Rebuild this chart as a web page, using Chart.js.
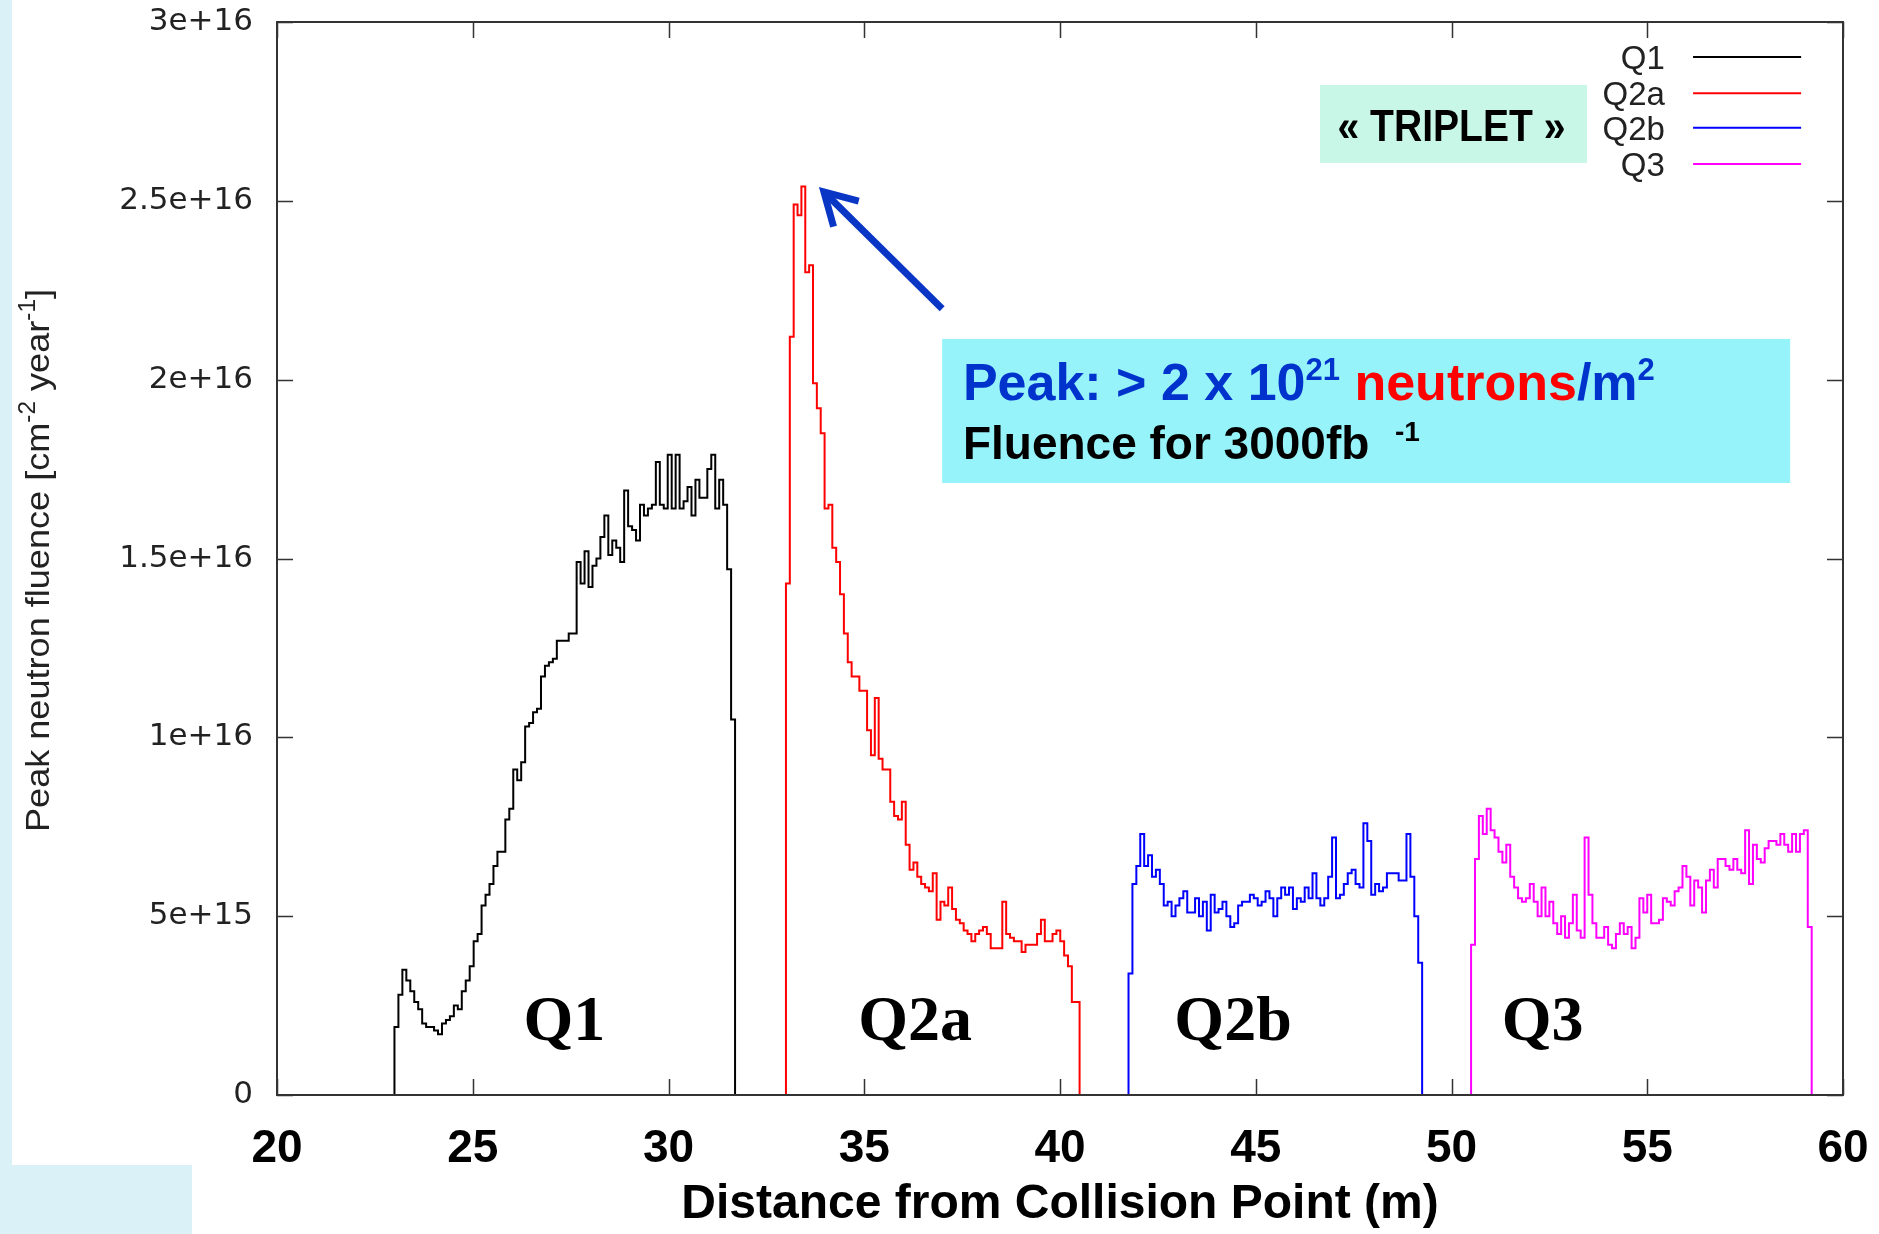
<!DOCTYPE html>
<html>
<head>
<meta charset="utf-8">
<title>Peak neutron fluence - triplet</title>
<script src="https://cdn.jsdelivr.net/npm/chart.js@4.4.1/dist/chart.umd.min.js"></script>
<style>
  html, body { margin: 0; padding: 0; background: #ffffff; }
  #page { position: relative; width: 1879px; height: 1234px; overflow: hidden; background: #ffffff; }
  .band { position: absolute; background: #daf2f7; }
  #chart { position: absolute; left: 0; top: 0; }
</style>
</head>
<body>
<div id="page">
  <div class="band" style="left:0;top:0;width:12px;height:1165px"></div>
  <div class="band" style="left:0;top:1165px;width:192px;height:69px"></div>
  <canvas id="chart" width="1879" height="1234"></canvas>
</div>
<script>
// distance from collision point (m) covered by each magnet histogram: [start, end]
const q1Range = [23.0, 31.7];
const q2aRange = [33.0, 40.5];
const q2bRange = [41.75, 49.25];
const q3Range = [50.5, 59.2];

// peak neutron fluence per bin, in units of 1e16 cm^-2 year^-1
const q1Values = [0.19, 0.28, 0.35, 0.32, 0.29, 0.26, 0.24, 0.20, 0.19, 0.19,
  0.18, 0.17, 0.20, 0.21, 0.22, 0.25, 0.24, 0.29, 0.32, 0.36,
  0.43, 0.45, 0.53, 0.56, 0.59, 0.64, 0.68, 0.68, 0.77, 0.80,
  0.91, 0.88, 0.93, 1.03, 1.04, 1.07, 1.08, 1.17, 1.20, 1.21,
  1.22, 1.27, 1.27, 1.27, 1.29, 1.29, 1.49, 1.43, 1.52, 1.42,
  1.48, 1.50, 1.56, 1.62, 1.51, 1.55, 1.53, 1.49, 1.69, 1.59,
  1.58, 1.55, 1.65, 1.62, 1.64, 1.65, 1.77, 1.65, 1.64, 1.79,
  1.64, 1.79, 1.64, 1.66, 1.70, 1.62, 1.72, 1.67, 1.67, 1.75,
  1.79, 1.64, 1.72, 1.65, 1.47, 1.05];
const q2aValues = [1.43, 2.12, 2.49, 2.46, 2.54, 2.30, 2.32, 1.99, 1.92, 1.85,
  1.64, 1.65, 1.53, 1.49, 1.40, 1.29, 1.21, 1.17, 1.17, 1.13,
  1.13, 1.02, 0.95, 1.11, 0.94, 0.91, 0.91, 0.82, 0.78, 0.77,
  0.82, 0.70, 0.63, 0.65, 0.61, 0.59, 0.58, 0.57, 0.62, 0.49,
  0.54, 0.53, 0.58, 0.52, 0.49, 0.48, 0.46, 0.45, 0.43, 0.45,
  0.46, 0.47, 0.45, 0.41, 0.41, 0.41, 0.54, 0.45, 0.44, 0.43,
  0.43, 0.40, 0.42, 0.42, 0.42, 0.45, 0.49, 0.43, 0.43, 0.45,
  0.46, 0.43, 0.39, 0.36, 0.26, 0.26];
const q2bValues = [0.34, 0.59, 0.64, 0.73, 0.64, 0.67, 0.61, 0.63, 0.59, 0.53,
  0.54, 0.50, 0.53, 0.55, 0.57, 0.51, 0.51, 0.55, 0.50, 0.54,
  0.46, 0.56, 0.51, 0.52, 0.54, 0.50, 0.47, 0.48, 0.53, 0.54,
  0.54, 0.56, 0.55, 0.53, 0.54, 0.57, 0.55, 0.50, 0.55, 0.58,
  0.56, 0.58, 0.52, 0.55, 0.54, 0.58, 0.55, 0.62, 0.55, 0.53,
  0.55, 0.61, 0.72, 0.55, 0.56, 0.59, 0.62, 0.63, 0.59, 0.58,
  0.76, 0.71, 0.56, 0.59, 0.57, 0.58, 0.62, 0.62, 0.62, 0.60,
  0.60, 0.73, 0.61, 0.50, 0.37];
const q3Values = [0.42, 0.66, 0.78, 0.73, 0.80, 0.74, 0.72, 0.68, 0.65, 0.70,
  0.61, 0.58, 0.55, 0.54, 0.55, 0.59, 0.54, 0.50, 0.58, 0.50,
  0.54, 0.48, 0.45, 0.50, 0.44, 0.48, 0.56, 0.46, 0.44, 0.72,
  0.56, 0.48, 0.44, 0.44, 0.47, 0.42, 0.41, 0.45, 0.48, 0.45,
  0.47, 0.41, 0.44, 0.55, 0.51, 0.56, 0.48, 0.48, 0.49, 0.55,
  0.54, 0.53, 0.57, 0.58, 0.64, 0.61, 0.53, 0.60, 0.58, 0.51,
  0.60, 0.63, 0.58, 0.66, 0.66, 0.64, 0.63, 0.66, 0.63, 0.62,
  0.74, 0.59, 0.70, 0.66, 0.65, 0.69, 0.71, 0.71, 0.70, 0.73,
  0.70, 0.68, 0.73, 0.68, 0.73, 0.74, 0.47];

const seriesNames = ["Q1", "Q2a", "Q2b", "Q3"];
const seriesColors = ["#000000", "#ff0000", "#0000ff", "#ff00ff"];
const UNIT = 1e16;
const xTitle = "Distance from Collision Point (m)";

const SANS = "'Liberation Sans', Arial, Helvetica, sans-serif";
const SERIF = "'Liberation Serif', 'DejaVu Serif', serif";

// turn one magnet's bins into step points (closed to zero at both ends)
function histPoints(range, values) {
  const [start, end] = range;
  const w = (end - start) / values.length;
  const pts = [{ x: start, y: 0 }];
  values.forEach((v, i) => pts.push({ x: start + i * w, y: v * UNIT }));
  pts.push({ x: end, y: 0 });
  return pts;
}

function gnuplotExp(v) {
  if (v === 0) return "0";
  const e = Math.floor(Math.log10(v) + 1e-9);
  const m = +(v / Math.pow(10, e)).toFixed(3);
  return m + "e+" + e;
}

function drawRuns(ctx, runs, x, y) {
  runs.forEach((r) => {
    ctx.font = r.font;
    ctx.fillStyle = r.color;
    ctx.fillText(r.t, x, y - (r.rise || 0));
    x += ctx.measureText(r.t).width;
  });
}

const decor = {
  id: "decor",
  afterDraw(chart) {
    const { ctx, chartArea: a } = chart;
    const xs = chart.scales.x;
    const ys = chart.scales.y;
    const px = (m) => xs.getPixelForValue(m);
    const py = (v) => ys.getPixelForValue(v * UNIT);
    ctx.save();

    // gnuplot style frame with inward ticks on every side
    ctx.strokeStyle = "#333333";
    ctx.lineWidth = 1.5;
    ctx.beginPath();
    xs.ticks.forEach((t) => {
      const x = Math.round(xs.getPixelForValue(t.value)) + 0.5;
      ctx.moveTo(x, a.bottom);
      ctx.lineTo(x, a.bottom - 16);
      ctx.moveTo(x, a.top);
      ctx.lineTo(x, a.top + 16);
    });
    ys.ticks.forEach((t) => {
      const y = Math.round(ys.getPixelForValue(t.value)) + 0.5;
      ctx.moveTo(a.left, y);
      ctx.lineTo(a.left + 16, y);
      ctx.moveTo(a.right, y);
      ctx.lineTo(a.right - 16, y);
    });
    ctx.stroke();
    ctx.lineWidth = 2;
    ctx.strokeRect(a.left, a.top, a.right - a.left, a.bottom - a.top);

    // legend, text right-aligned with the line sample on its right
    const legendRows = [2.902, 2.801, 2.704, 2.603];
    ctx.font = "33px " + SANS;
    ctx.textAlign = "right";
    ctx.textBaseline = "alphabetic";
    seriesNames.forEach((name, i) => {
      const y = py(legendRows[i]);
      ctx.fillStyle = "#222222";
      ctx.fillText(name, px(55.45), y + 12);
      ctx.strokeStyle = seriesColors[i];
      ctx.lineWidth = 2;
      ctx.beginPath();
      ctx.moveTo(px(56.17), y);
      ctx.lineTo(px(58.93), y);
      ctx.stroke();
    });

    // magnet names
    const magnetLabels = [[27.34, "Q1"], [36.30, "Q2a"], [44.42, "Q2b"], [52.33, "Q3"]];
    ctx.font = "bold 64px " + SERIF;
    ctx.textAlign = "center";
    ctx.fillStyle = "#000000";
    magnetLabels.forEach(([m, t]) => ctx.fillText(t, px(m), py(0.154)));

    // << TRIPLET >> tag
    ctx.fillStyle = "#c8f7e8";
    ctx.fillRect(px(46.64), py(2.824), px(53.46) - px(46.64), py(2.606) - py(2.824));
    ctx.font = "bold 44px " + SANS;
    ctx.fillStyle = "#000000";
    const tag = "\u00ab TRIPLET \u00bb";
    const k = 228 / ctx.measureText(tag).width;
    ctx.save();
    ctx.translate(px(50.0), py(2.667));
    ctx.scale(k, 1);
    ctx.fillText(tag, 0, 0);
    ctx.restore();

    // peak annotation box
    ctx.fillStyle = "#96f3f9";
    ctx.fillRect(px(36.99), py(2.114), px(58.65) - px(36.99), py(1.711) - py(2.114));
    ctx.textAlign = "left";
    const blue = "#0033cc";
    const big = "bold 52px " + SANS;
    const sup = "bold 31px " + SANS;
    drawRuns(ctx, [
      { t: "Peak: > 2 x 10", font: big, color: blue },
      { t: "21", font: sup, color: blue, rise: 20 },
      { t: " neutrons", font: big, color: "#ff0000" },
      { t: "/m", font: big, color: blue },
      { t: "2", font: sup, color: blue, rise: 20 },
    ], px(37.52), py(1.943));
    drawRuns(ctx, [
      { t: "Fluence for 3000fb  ", font: "bold 46px " + SANS, color: "#000000" },
      { t: "-1", font: "bold 28px " + SANS, color: "#000000", rise: 18 },
    ], px(37.52), py(1.778));

    // arrow pointing at the Q2a peak
    const tx = px(36.99), ty = py(2.198), hx = px(33.97), hy = py(2.525);
    const ang = Math.atan2(ty - hy, tx - hx);
    ctx.strokeStyle = "#0a36c6";
    ctx.lineWidth = 7;
    ctx.lineCap = "butt";
    ctx.lineJoin = "miter";
    ctx.beginPath();
    ctx.moveTo(tx, ty);
    ctx.lineTo(hx + 3 * Math.cos(ang), hy + 3 * Math.sin(ang));
    ctx.stroke();
    ctx.beginPath();
    ctx.moveTo(hx + 36 * Math.cos(ang + 0.52), hy + 36 * Math.sin(ang + 0.52));
    ctx.lineTo(hx, hy);
    ctx.lineTo(hx + 36 * Math.cos(ang - 0.52), hy + 36 * Math.sin(ang - 0.52));
    ctx.stroke();

    // rotated y title with superscripts
    const parts = [
      { t: "Peak neutron fluence [cm", s: false },
      { t: "-2", s: true },
      { t: " year", s: false },
      { t: "-1", s: true },
      { t: "]", s: false },
    ];
    const mainFont = "34px " + SANS;
    const supFont = "23px " + SANS;
    let total = 0;
    parts.forEach((p) => {
      ctx.font = p.s ? supFont : mainFont;
      total += ctx.measureText(p.t).width;
    });
    const sx = 543 / total;
    ctx.save();
    ctx.translate(49, (a.top + a.bottom) / 2 + 2);
    ctx.rotate(-Math.PI / 2);
    ctx.scale(sx, 1);
    ctx.fillStyle = "#222222";
    ctx.textAlign = "left";
    let cx = -total / 2;
    parts.forEach((p) => {
      ctx.font = p.s ? supFont : mainFont;
      ctx.fillText(p.t, cx, p.s ? -14 : 0);
      cx += ctx.measureText(p.t).width;
    });
    ctx.restore();

    ctx.restore();
  },
};

const ranges = [q1Range, q2aRange, q2bRange, q3Range];
const values = [q1Values, q2aValues, q2bValues, q3Values];

new Chart(document.getElementById("chart"), {
  type: "line",
  data: {
    datasets: seriesNames.map((name, i) => ({
      label: name,
      data: histPoints(ranges[i], values[i]),
      borderColor: seriesColors[i],
      borderWidth: 2,
      pointRadius: 0,
      stepped: true,
      fill: false,
      tension: 0,
    })),
  },
  options: {
    responsive: false,
    animation: false,
    layout: { padding: { top: 22, right: 36, left: 0, bottom: 0 } },
    plugins: { legend: { display: false }, tooltip: { enabled: false } },
    scales: {
      x: {
        type: "linear",
        min: 20,
        max: 60,
        ticks: {
          stepSize: 5,
          maxRotation: 0,
          color: "#000000",
          padding: 27,
          font: { family: SANS, size: 46, weight: "bold" },
        },
        grid: { display: false, drawTicks: false },
        border: { display: false },
        title: {
          display: true,
          text: xTitle,
          color: "#000000",
          font: { family: SANS, size: 48, weight: "bold" },
          padding: { top: 0, bottom: 0 },
        },
        afterFit: (s) => {
          s.height = 139;
          s.paddingLeft = 0;
          s.paddingRight = 0;
        },
      },
      y: {
        min: 0,
        max: 3 * UNIT,
        ticks: {
          stepSize: 0.5 * UNIT,
          color: "#222222",
          padding: 24,
          font: { family: "'DejaVu Sans', sans-serif", size: 31 },
          callback: (v) => gnuplotExp(v),
        },
        grid: { display: false, drawTicks: false },
        border: { display: false },
        afterFit: (s) => {
          s.width = 277;
          s.paddingTop = 0;
          s.paddingBottom = 0;
        },
      },
    },
  },
  plugins: [decor],
});
</script>
</body>
</html>
